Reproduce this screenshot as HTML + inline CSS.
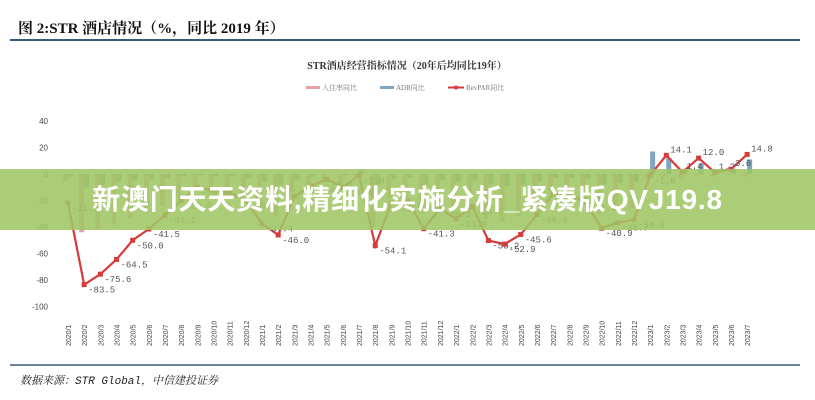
<!DOCTYPE html>
<html><head><meta charset="utf-8"><style>
body{margin:0;width:815px;height:400px;background:#fff;overflow:hidden;position:relative;font-family:"Liberation Serif","Noto Serif CJK SC",serif}
#banner{position:absolute;left:0;top:169px;width:815px;height:61px;background:rgba(160,198,100,0.88);color:#fff;font:bold 28px "Liberation Sans","Noto Sans CJK SC",sans-serif;text-align:center;line-height:61px;letter-spacing:0.8px}
</style></head><body>
<svg width="815" height="400" style="position:absolute;left:0;top:0">
<text x="18" y="33" font-size="15" font-weight="bold" fill="#111" font-family="Liberation Serif,Noto Serif CJK SC,serif">图 2:STR 酒店情况（%，同比 2019 年）</text>
<line x1="10" y1="40" x2="800" y2="40" stroke="#3a5a7a" stroke-width="2"/>
<text x="407" y="69" font-size="10" font-weight="bold" fill="#333" text-anchor="middle">STR酒店经营指标情况（20年后均同比19年）</text>
<g font-size="7" fill="#777">
<rect x="306" y="86" width="14" height="3" fill="#e8a0a8"/><text x="322" y="90">入住率同比</text>
<rect x="380" y="86" width="14" height="3" fill="#7fa5c5"/><text x="396" y="90">ADR同比</text>
<line x1="448" y1="87.5" x2="464" y2="87.5" stroke="#d63a3a" stroke-width="2"/><circle cx="456" cy="87.5" r="2" fill="#d63a3a"/><text x="466" y="90">RevPAR同比</text>
</g>
<g id="plot"></g>
<line x1="10" y1="365" x2="800" y2="365" stroke="#3a5a7a" stroke-width="1.5"/>
<text x="20" y="384" font-size="11" font-style="italic" fill="#222" font-family="Liberation Mono,Noto Serif CJK SC,serif">数据来源：STR Global，中信建投证券</text>
</svg>
<div id="banner">新澳门天天资料,精细化实施分析_紧凑版QVJ19.8</div>
<script>
const categories=["2020/1","2020/2","2020/3","2020/4","2020/5","2020/6","2020/7","2020/8","2020/9","2020/10","2020/11","2020/12","2021/1","2021/2","2021/3","2021/4","2021/5","2021/6","2021/7","2021/8","2021/9","2021/10","2021/11","2021/12","2022/1","2022/2","2022/3","2022/4","2022/5","2022/6","2022/7","2022/8","2022/9","2022/10","2022/11","2022/12","2023/1","2023/2","2023/3","2023/4","2023/5","2023/6","2023/7"];
const revpar=[-21.9,-83.5,-75.6,-64.5,-50.0,-41.5,-31.1,-20,-10,-12,-14,-20,-37.4,-46.0,-17,-9,-4,-10,-1,-54.1,-21.9,-20,-41.3,-26.3,-33.9,-24.5,-50.2,-52.9,-45.6,-30.6,-15,-15,-21.5,-40.9,-36.7,-34.5,-1,14.1,1.4,12.0,1.2,3.6,14.8];
const occupancy=[-5,-44,-42,-38,-33,-28,-24,-18,-12,-14,-15,-18,-28,-32,-14,-8,-4,-9,-3,-40,-18,-17,-30,-20,-25,-19,-34,-36,-32,-22,-12,-12,-17,-30,-27,-26,-4,-2,-3,-1,-2,-1,-2];
const adr=[-2,-10,-8,-6,-5,-4,-3,-2,-1,-2,-2,-3,-6,-8,-4,-2,0,-1,3,-8,-4,-3,-8,-5,-6,-5,-8,-9,-8,-6,-3,-3,-4,-8,-7,-6,17,12,3,8,3,4,11];
const yTicks=[40,20,0,-20,-40,-60,-80,-100];
const y=v=>174-v*1.325;
const x=i=>68+i*16.17;
const NS="http://www.w3.org/2000/svg";
const g=document.getElementById('plot');
function el(t,a){const e=document.createElementNS(NS,t);for(const k in a)e.setAttribute(k,a[k]);g.appendChild(e);return e;}
yTicks.forEach(t=>{const e=el('text',{x:48,y:y(t)+3,'font-size':8,fill:'#444','text-anchor':'end','font-family':'Liberation Sans,sans-serif'});e.textContent=t;

});
categories.forEach((c,i)=>{
const b1=el('rect',{x:x(i)-5,y:Math.min(y(0),y(occupancy[i])),width:5,height:Math.abs(y(occupancy[i])-y(0)),fill:'#e8a0a8'});


const b2=el('rect',{x:x(i),y:Math.min(y(0),y(adr[i])),width:5,height:Math.abs(y(adr[i])-y(0)),fill:'#7fa5c5'});


const t=el('text',{transform:`translate(${x(i)+3},346) rotate(-90)`,'font-size':7,fill:'#444','font-family':'Liberation Sans,sans-serif'});t.textContent=c;


});
const ln=el('polyline',{points:revpar.map((v,i)=>x(i)+','+y(v)).join(' '),fill:'none',stroke:'#d63a3a','stroke-width':2.2});


revpar.forEach((v,i)=>{const p=el('rect',{x:x(i)-2.5,y:y(v)-2.5,width:5,height:5,fill:'#d63a3a'});


const l=el('text',{x:x(i)+4,y:y(v)+(v<0?8:-3),'font-size':9,fill:'#555','font-family':'Liberation Mono,monospace'});l.textContent=v.toFixed(1);

});
</script>
</body></html>
